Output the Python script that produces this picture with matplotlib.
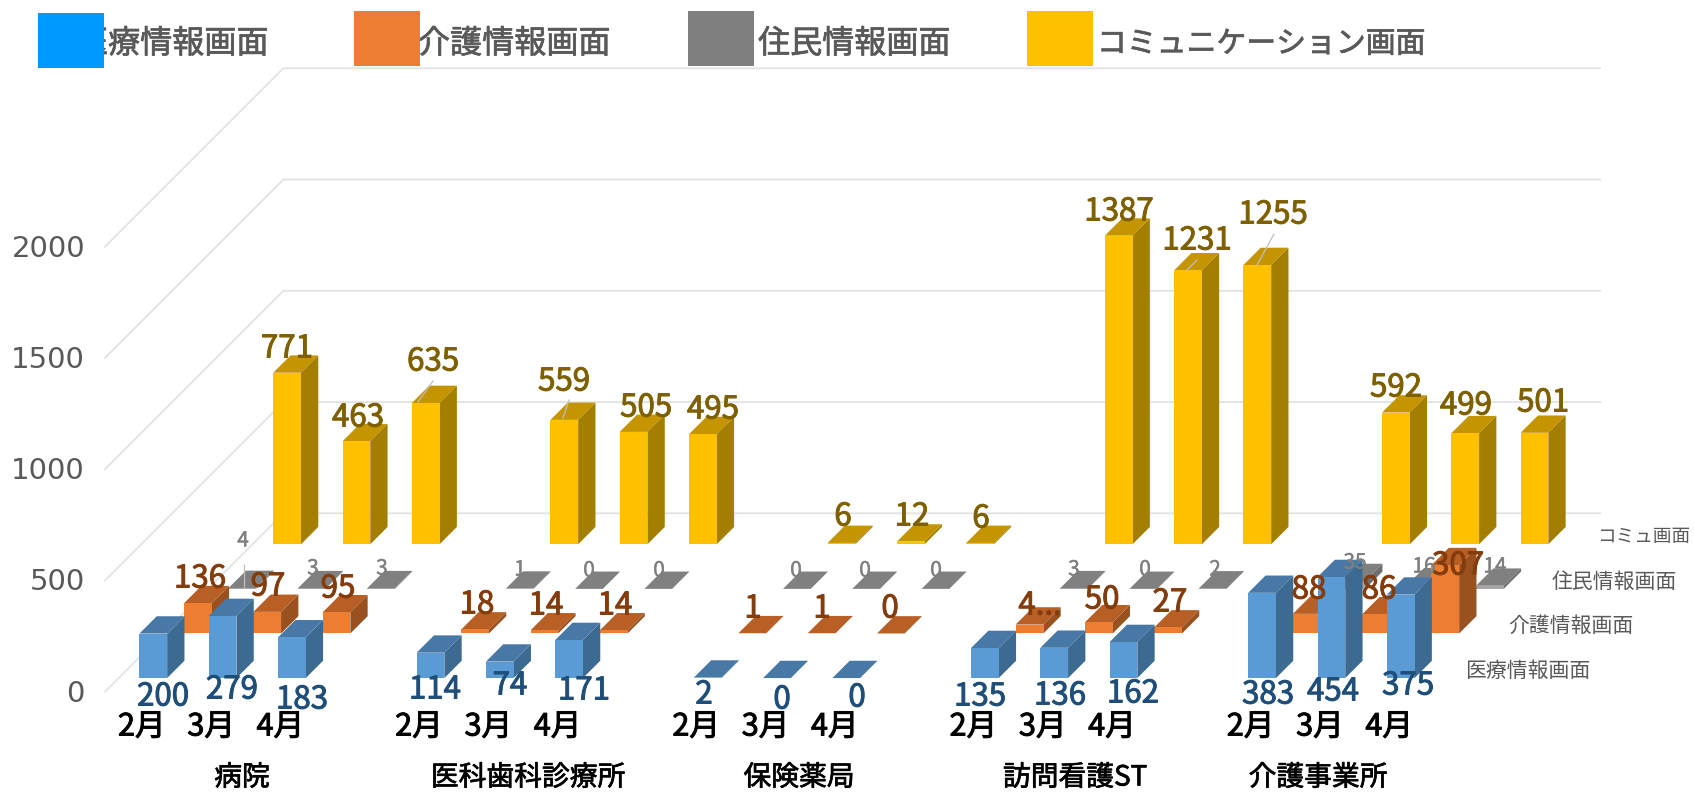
import matplotlib
matplotlib.use("Agg")
import matplotlib.pyplot as plt
import matplotlib.patheffects as pe
from matplotlib.patches import Rectangle

W, H = 1694, 793
FONT = ['Noto Sans CJK JP', 'DejaVu Sans']
plt.rcParams['font.family'] = FONT

# ---- data ----
facilities = ['病院', '医科歯科診療所', '保険薬局', '訪問看護ST', '介護事業所']
months = ['2月', '3月', '4月']
series_names = ['医療情報画面', '介護情報画面', '住民情報画面', 'コミュニケーション画面']
depth_names = ['医療情報画面', '介護情報画面', '住民情報画面', 'コミュ画面']
medical = [200, 279, 183, 114, 74, 171, 2, 0, 0, 135, 136, 162, 383, 454, 375]
care = [136, 97, 95, 18, 14, 14, 1, 1, 0, 40, 50, 27, 88, 86, 307]
resident = [4, 3, 3, 1, 0, 0, 0, 0, 0, 3, 0, 2, 35, 16, 14]
communication = [771, 463, 635, 559, 505, 495, 6, 12, 6, 1387, 1231, 1255, 592, 499, 501]
yticks = [0, 500, 1000, 1500, 2000]
care_text = ['136', '97', '95', '18', '14', '14', '1', '1', '0', '4...', '50', '27', '88', '86', '307']

# ---- styles ----
FACES = [  # front, top, side
    ('#5B9BD5', '#4878A6', '#3C6A90'),
    ('#ED7D31', '#B85F26', '#9A5120'),
    ('#A5A5A5', '#808080', '#6E6E6E'),
    ('#FFC000', '#C49500', '#A47E00'),
]
LABEL_COL = ['#1F4E79', '#843C0C', '#7F7F7F', '#7F6000']
LABEL_SIZE = [22.5, 22.5, 15, 22.5]

# ---- label placement, figure pixels ----
LABEL_POS = [
    [(163, 694), (232, 687), (302, 697), (435, 687), (510, 683), (584, 688), (704, 692), (782, 697), (857, 695),
     (980, 694), (1060, 693), (1133, 691), (1268, 692), (1333, 689), (1408, 683)],
    [(200, 576), (268, 584), (338, 586), (477, 602), (546, 603), (615, 603), (753, 606), (822, 606), (890, 606),
     (1040, 603), (1102, 597), (1170, 600), (1309, 587), (1379, 587), (1458, 563)],
    [(243, 538), (313, 566), (382, 566), (520, 567), (589, 568), (659, 568), (796, 568), (865, 568), (936, 568),
     (1074, 567), (1145, 567), (1215, 567), (1355, 560), (1424, 564), (1495, 564)],
    [(287, 346), (358, 415), (433, 359), (564, 379), (646, 405), (713, 407), (843, 514), (912, 514), (981, 516),
     (1119, 209), (1197, 238), (1273, 212), (1396, 385), (1466, 403), (1543, 400)],
]
LABEL_SHIFT = 2.5
LEADERS = [((1187, 270), (1197, 260)), ((1257, 265), (1274, 234)), ((418, 402), (433, 381)),
           ((563, 418), (569, 400)), ((244, 565), (244, 588))]
CAT_POS = [(242, 777.5), (528, 777.5), (799, 777.5), (1075, 777.5), (1318, 777.5)]
LEGEND_BOX = [(38, 13, 66, 55, '#0099FF'), (354, 11, 66, 55, '#ED7D31'),
              (688, 11, 66, 55, '#7F7F7F'), (1027, 11, 66, 55, '#FFC000')]
LEGEND_TXT = [(76, 23.1), (418, 23.1), (758, 23.1), (1097, 21.5)]
DEPTH_POS = [(1465, 671, 15), (1508, 626, 15), (1552, 582, 15), (1597, 537, 13.4)]


def heavy(col, lw=0.6):
    return [pe.withStroke(linewidth=lw, foreground=col)]


# ---- projection ----
X0, Y0 = 105.0, 691.7      # pixel of slot 0, value 0, depth 0
SLOT = 69.3                # pixels per category slot
PX_PER_UNIT = 0.2225       # pixels per value unit
ROW = 44.6                 # pixels per series row
DX, DY = ROW / SLOT, ROW / PX_PER_UNIT
BAR_W, GAP_X = 0.40, 0.30
BAR_D, GAP_D = 0.388, 0.306


def proj(x, v, d):
    return x + d * DX, v + d * DY


fig = plt.figure(figsize=(W / 100, H / 100), dpi=100, facecolor='white')
ax = fig.add_axes([0, 0, 1, 1])
ax.set_xlim(-X0 / SLOT, (W - X0) / SLOT)
ax.set_ylim(-(H - Y0) / PX_PER_UNIT, Y0 / PX_PER_UNIT)
ax.axis('off')


def figxy(px, py):
    return px / W, 1 - py / H


# gridlines: side wall then back wall
n_slots = 19.0
for v in yticks:
    xa, ya = proj(0, v, 0)
    xb, yb = proj(0, v, 4)
    xc, yc = proj(n_slots, v, 4)
    ax.plot([xa, xb, xc], [ya, yb, yc], color='#E2E2E2', lw=1.3, zorder=1, solid_joinstyle='miter')


def bar(x, d, val, cols, z):
    x1 = x + BAR_W
    d1 = d + BAR_D
    def P(*pts):
        return zip(*[proj(*p) for p in pts])
    xs, ys = P((x, val, d), (x1, val, d), (x1, val, d1), (x, val, d1))
    ax.fill(list(xs), list(ys), color=cols[1], lw=0, zorder=z)
    xs, ys = P((x1, 0, d), (x1, 0, d1), (x1, val, d1), (x1, val, d))
    ax.fill(list(xs), list(ys), color=cols[2], lw=0, zorder=z)
    xs, ys = P((x, 0, d), (x1, 0, d), (x1, val, d), (x, val, d))
    ax.fill(list(xs), list(ys), color=cols[0], lw=0, zorder=z)


slots = [g * 4 + m for g in range(5) for m in range(3)]
all_series = [medical, care, resident, communication]
for row in range(3, -1, -1):
    for s, val in zip(slots, all_series[row]):
        bar(s + GAP_X, row + GAP_D, val, FACES[row], 5 - row)

# leader lines
for (a, b) in LEADERS:
    fig.add_artist(plt.Line2D([a[0] / W, b[0] / W], [1 - a[1] / H, 1 - b[1] / H], color='#BFBFBF', lw=0.9, zorder=6))

# data labels
texts = [[str(v) for v in medical], care_text, [str(v) for v in resident], [str(v) for v in communication]]
for row in range(4):
    for t, pos in zip(texts[row], LABEL_POS[row]):
        x, y = figxy(pos[0], pos[1] + LABEL_SHIFT)
        fig.text(x, y, t, ha='center', va='center', color=LABEL_COL[row], fontsize=LABEL_SIZE[row],
                 zorder=7, path_effects=heavy(LABEL_COL[row], 0.7 if row != 2 else 0.3))

# value axis labels
for v in yticks:
    xv, yv = proj(0, v, 0)
    t = ax.text(xv - 20 / SLOT, yv - 2 / PX_PER_UNIT, str(v), ha='right', va='center', color='#595959',
                fontsize=21, family='DejaVu Sans', clip_on=True)
    t.set_clip_path(Rectangle((12, 0), W, H, transform=None))

# month labels and facility labels
for s, k in zip(slots, range(15)):
    ax.text(s + 0.53, (Y0 - 727) / PX_PER_UNIT, months[k % 3], ha='center', va='center',
            color='black', fontsize=22, path_effects=heavy('black', 0.7))
for name, pos in zip(facilities, CAT_POS):
    x, y = figxy(*pos)
    fig.text(x, y, name, ha='center', va='center', color='black', fontsize=20, path_effects=heavy('black', 0.5))

# depth axis labels
for name, (dx_, dy_, fs) in zip(depth_names, DEPTH_POS):
    x, y = figxy(dx_, dy_)
    fig.text(x, y, name, ha='left', va='center', color='#595959', fontsize=fs)

# legend: text first, boxes on top
for name, (lx, fs) in zip(series_names, LEGEND_TXT):
    x, y = figxy(lx, 44)
    fig.text(x, y, name, ha='left', va='center', color='#595959', fontsize=fs, zorder=8,
             path_effects=heavy('#595959', 0.5))
for (bx, by, bw, bh, c) in LEGEND_BOX:
    fig.add_artist(Rectangle((bx / W, 1 - (by + bh) / H), bw / W, bh / H, transform=fig.transFigure,
                             facecolor=c, edgecolor='none', zorder=9))

fig.savefig('out.png', dpi=100)
